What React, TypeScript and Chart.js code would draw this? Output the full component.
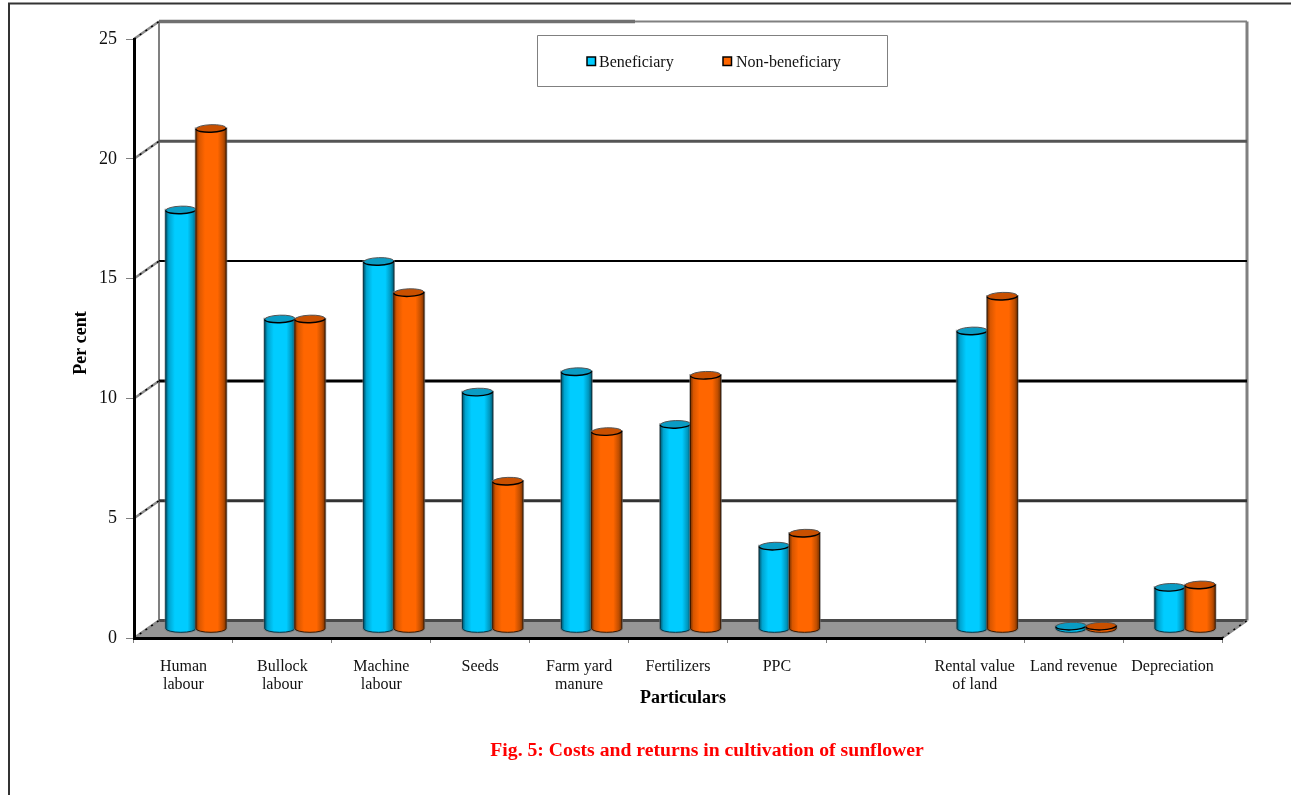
import React, { useEffect, useRef } from "react";
import { Chart, registerables } from "chart.js";

Chart.register(...registerables);

const categories: (string | string[])[] = [
  ["Human", "labour"],
  ["Bullock", "labour"],
  ["Machine", "labour"],
  "Seeds",
  ["Farm yard", "manure"],
  "Fertilizers",
  "PPC",
  "",
  ["Rental value", "of land"],
  "Land revenue",
  "Depreciation",
];
const beneficiary = [17.49, 12.94, 15.34, 9.89, 10.74, 8.54, 3.46, null, 12.44, 0.12, 1.74];
const nonBeneficiary = [20.89, 12.94, 14.04, 6.17, 8.24, 10.59, 4.0, null, 13.89, 0.12, 1.84];
const wallValues = [0, 5, 10, 15, 20, 25];

const xTitle = "Particulars";
const yTitle = "Per cent";
const caption = "Fig. 5: Costs and returns in cultivation of sunflower";

const SERIF = '"Liberation Serif", "Times New Roman", serif';
const DEPTH_X = 25;
const DEPTH_Y = -17.5;

const wallStyle: Record<number, [string, number]> = {
  0: ["#4a4a4a", 3],
  5: ["#333333", 3],
  10: ["#000000", 3],
  15: ["#000000", 2],
  20: ["#555555", 3],
  25: ["#808080", 2],
};

const shades = [
  { line: "#00384a", edge: "#005a73", lit: "#00a4d0", mid: "#00ccff", far: "#0096bd", cap: "#0a9cc4" },
  { line: "#3d1a00", edge: "#7a3300", lit: "#d85600", mid: "#ff6600", far: "#c04e00", cap: "#c95000" },
];

function depthLine(ctx: CanvasRenderingContext2D, x0: number, y0: number) {
  ctx.beginPath();
  ctx.moveTo(x0, y0);
  ctx.lineTo(x0 + DEPTH_X, y0 + DEPTH_Y);
  ctx.strokeStyle = "#8c8c8c";
  ctx.lineWidth = 2.5;
  ctx.setLineDash([]);
  ctx.stroke();
  ctx.strokeStyle = "#000000";
  ctx.lineWidth = 1.5;
  ctx.setLineDash([2, 5]);
  ctx.stroke();
  ctx.setLineDash([]);
}

// Back wall, floor and the outer frame, painted under the scales.
const roomPlugin = {
  id: "room",
  beforeDraw(chart: any) {
    const { ctx, chartArea: a, scales } = chart;
    const y = scales.y;
    const y0 = y.getPixelForValue(0);
    const x0 = a.left;
    const x1 = a.right;
    ctx.save();
    ctx.fillStyle = "#ffffff";
    ctx.fillRect(0, 0, chart.width, chart.height);

    ctx.strokeStyle = "#333333";
    ctx.lineWidth = 2;
    ctx.beginPath();
    ctx.moveTo(9, chart.height);
    ctx.lineTo(9, 3.5);
    ctx.lineTo(chart.width, 3.5);
    ctx.stroke();

    ctx.fillStyle = "#969696";
    ctx.beginPath();
    ctx.moveTo(x0, y0);
    ctx.lineTo(x1, y0);
    ctx.lineTo(x1 + DEPTH_X, y0 + DEPTH_Y);
    ctx.lineTo(x0 + DEPTH_X, y0 + DEPTH_Y);
    ctx.closePath();
    ctx.fill();

    ctx.strokeStyle = "#808080";
    ctx.lineWidth = 2;
    const top = y.getPixelForValue(25) + DEPTH_Y;
    ctx.beginPath();
    ctx.moveTo(x0 + DEPTH_X, top);
    ctx.lineTo(x0 + DEPTH_X, y0 + DEPTH_Y);
    ctx.stroke();
    ctx.lineWidth = 3;
    ctx.beginPath();
    ctx.moveTo(x1 + DEPTH_X, top);
    ctx.lineTo(x1 + DEPTH_X, y0 + DEPTH_Y);
    ctx.stroke();

    for (const v of wallValues) {
      const py = y.getPixelForValue(v);
      const [color, width] = wallStyle[v];
      ctx.strokeStyle = color;
      ctx.lineWidth = width;
      ctx.beginPath();
      ctx.moveTo(x0 + DEPTH_X, py + DEPTH_Y);
      ctx.lineTo(x1 + DEPTH_X, py + DEPTH_Y);
      ctx.stroke();
      depthLine(ctx, x0, py);
    }
    // The top rail is heavier over its left part.
    ctx.strokeStyle = "#707070";
    ctx.lineWidth = 3.5;
    ctx.beginPath();
    ctx.moveTo(x0 + DEPTH_X, top);
    ctx.lineTo(635, top);
    ctx.stroke();
    depthLine(ctx, x1, y0);
    ctx.restore();
  },
};

// Each bar element is painted as a shaded cylinder standing mid-way across the floor.
const cylinderPlugin = {
  id: "cylinders",
  afterDatasetsDraw(chart: any) {
    const { ctx } = chart;
    const dx = 12.5;
    const dy = -9;
    const ry = 3.8;
    const tilt = -0.035;
    chart.data.datasets.forEach((ds: any, di: number) => {
      const s = shades[di];
      chart.getDatasetMeta(di).data.forEach((el: any, i: number) => {
        if (ds.data[i] == null) return;
        const { x, y, base, width } = el.getProps(["x", "y", "base", "width"], true);
        const left = x - width / 2 + dx;
        const right = x + width / 2 + dx;
        const cx = (left + right) / 2;
        const yTop = y + dy;
        const yBase = base + dy;
        const grad = ctx.createLinearGradient(left, 0, right, 0);
        grad.addColorStop(0, s.edge);
        grad.addColorStop(0.1, s.lit);
        grad.addColorStop(0.3, s.mid);
        grad.addColorStop(0.72, s.mid);
        grad.addColorStop(0.9, s.far);
        grad.addColorStop(1, s.edge);
        ctx.save();
        ctx.beginPath();
        ctx.moveTo(left, yTop);
        ctx.lineTo(left, yBase);
        ctx.ellipse(cx, yBase, width / 2, ry, 0, Math.PI, 0, true);
        ctx.lineTo(right, yTop);
        ctx.closePath();
        // soft grey halo that sits just outside the body
        ctx.strokeStyle = "rgba(120,120,120,0.65)";
        ctx.lineWidth = 2.5;
        ctx.stroke();
        ctx.fillStyle = grad;
        ctx.fill();
        ctx.strokeStyle = s.line;
        ctx.lineWidth = 1;
        ctx.stroke();

        ctx.beginPath();
        ctx.ellipse(cx, yTop, width / 2, ry, tilt, 0, Math.PI * 2);
        ctx.fillStyle = s.cap;
        ctx.fill();
        // far rim is grey, near rim is black
        ctx.beginPath();
        ctx.ellipse(cx, yTop, width / 2, ry, tilt, Math.PI, 0);
        ctx.strokeStyle = "#555555";
        ctx.lineWidth = 1;
        ctx.stroke();
        ctx.beginPath();
        ctx.ellipse(cx, yTop, width / 2, ry, tilt, 0, Math.PI);
        ctx.strokeStyle = "#000000";
        ctx.lineWidth = 1.4;
        ctx.stroke();
        ctx.restore();
      });
    });
  },
};

// Legend box, axis names and the figure caption.
const annotationPlugin = {
  id: "annotations",
  afterDraw(chart: any) {
    const { ctx } = chart;
    ctx.save();
    ctx.strokeStyle = "#808080";
    ctx.lineWidth = 1;
    ctx.fillStyle = "#ffffff";
    ctx.beginPath();
    ctx.rect(537.5, 35.5, 350, 51);
    ctx.fill();
    ctx.stroke();

    ctx.textBaseline = "middle";
    ctx.textAlign = "left";
    ctx.font = `16px ${SERIF}`;
    const swatches = [587, 723];
    chart.data.datasets.forEach((ds: any, i: number) => {
      ctx.fillStyle = ds.legendColor;
      ctx.strokeStyle = "#000000";
      ctx.lineWidth = 1.5;
      ctx.fillRect(swatches[i], 57, 8.5, 8.5);
      ctx.strokeRect(swatches[i], 57, 8.5, 8.5);
      ctx.fillStyle = "#111111";
      ctx.fillText(ds.label, swatches[i] + (i === 0 ? 12 : 13), 63);
    });

    ctx.fillStyle = "#000000";
    ctx.textAlign = "center";
    ctx.font = `bold 18px ${SERIF}`;
    ctx.fillText(xTitle, 683, 698);
    ctx.save();
    ctx.translate(81, 343);
    ctx.rotate(-Math.PI / 2);
    ctx.fillText(yTitle, 0, 0);
    ctx.restore();

    ctx.fillStyle = "#ff0000";
    ctx.font = `bold 19.7px ${SERIF}`;
    ctx.fillText(caption, 707, 751);
    ctx.restore();
  },
};

export default function App() {
  const ref = useRef<HTMLCanvasElement>(null);

  useEffect(() => {
    if (!ref.current) return;
    const chart = new Chart(ref.current, {
      type: "bar",
      data: {
        labels: categories as any,
        datasets: [
          { label: "Beneficiary", data: beneficiary, backgroundColor: "transparent", legendColor: "#00ccff" } as any,
          { label: "Non-beneficiary", data: nonBeneficiary, backgroundColor: "transparent", legendColor: "#ff6600" } as any,
        ],
      },
      options: {
        responsive: false,
        animation: false,
        devicePixelRatio: 1,
        categoryPercentage: 0.61,
        barPercentage: 1,
        layout: { padding: { top: 39, right: 69, bottom: 87, left: 0 } },
        plugins: { legend: { display: false }, title: { display: false }, tooltip: { enabled: false } },
        scales: {
          x: {
            afterFit: (s: any) => {
              s.height = 70;
            },
            grid: { drawOnChartArea: false, color: "#808080", tickLength: 5, tickWidth: 1 },
            border: { color: "#000000", width: 3 },
            ticks: {
              color: "#111111",
              padding: 15,
              maxRotation: 0,
              autoSkip: false,
              font: { family: SERIF, size: 16, lineHeight: 1.13 },
            },
          },
          y: {
            min: 0,
            max: 25,
            afterFit: (s: any) => {
              s.width = 134;
            },
            grid: { drawOnChartArea: false, color: "#808080", tickLength: 8, tickWidth: 1 },
            border: { color: "#000000", width: 3 },
            ticks: {
              stepSize: 5,
              color: "#111111",
              padding: 9,
              font: { family: SERIF, size: 18 },
            },
          },
        },
      },
      plugins: [roomPlugin, cylinderPlugin, annotationPlugin],
    } as any);
    return () => chart.destroy();
  }, []);

  return (
    <canvas
      ref={ref}
      width={1291}
      height={795}
      style={{ position: "fixed", left: 0, top: 0, width: 1291, height: 795, display: "block" }}
    />
  );
}
